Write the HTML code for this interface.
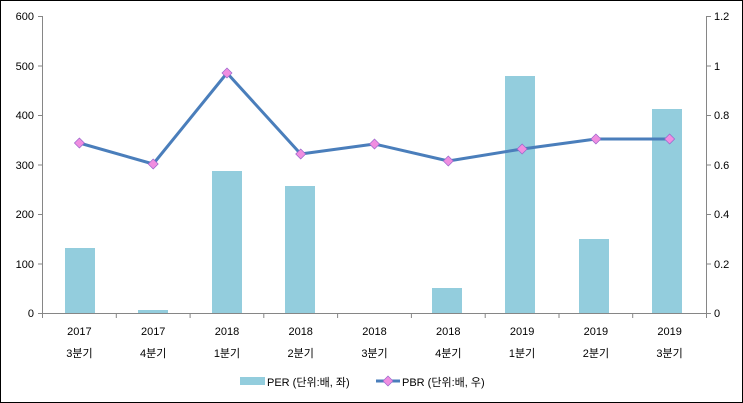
<!DOCTYPE html>
<html><head><meta charset="utf-8"><style>
html,body{margin:0;padding:0;background:#fff}
svg{display:block}
text{font-family:"Liberation Sans","Noto Sans CJK KR",sans-serif;font-size:11px;fill:#000}
</style></head><body>
<svg width="743" height="403" xmlns="http://www.w3.org/2000/svg">
<rect x="0.5" y="0.5" width="742" height="402" fill="#fff" stroke="#000" stroke-width="1"/>
<g stroke="#868686" stroke-width="1" fill="none">
<line x1="42.5" y1="16" x2="42.5" y2="313"/>
<line x1="706.5" y1="16" x2="706.5" y2="313"/>
<line x1="42" y1="313.5" x2="707" y2="313.5"/>
<line x1="38" y1="16.5" x2="42" y2="16.5"/><line x1="38" y1="66" x2="42" y2="66"/><line x1="38" y1="115.5" x2="42" y2="115.5"/><line x1="38" y1="165" x2="42" y2="165"/><line x1="38" y1="214.5" x2="42" y2="214.5"/><line x1="38" y1="264" x2="42" y2="264"/><line x1="38" y1="313.5" x2="42" y2="313.5"/>
<line x1="707" y1="16.5" x2="711" y2="16.5"/><line x1="707" y1="66" x2="711" y2="66"/><line x1="707" y1="115.5" x2="711" y2="115.5"/><line x1="707" y1="165" x2="711" y2="165"/><line x1="707" y1="214.5" x2="711" y2="214.5"/><line x1="707" y1="264" x2="711" y2="264"/><line x1="707" y1="313.5" x2="711" y2="313.5"/>
<line x1="42.5" y1="313" x2="42.5" y2="318"/><line x1="116.3" y1="313" x2="116.3" y2="318"/><line x1="190.1" y1="313" x2="190.1" y2="318"/><line x1="263.8" y1="313" x2="263.8" y2="318"/><line x1="337.6" y1="313" x2="337.6" y2="318"/><line x1="411.4" y1="313" x2="411.4" y2="318"/><line x1="485.2" y1="313" x2="485.2" y2="318"/><line x1="559" y1="313" x2="559" y2="318"/><line x1="632.7" y1="313" x2="632.7" y2="318"/><line x1="706.5" y1="313" x2="706.5" y2="318"/>
</g>
<g text-anchor="end">
<text x="34" y="20">600</text><text x="34" y="70">500</text><text x="34" y="119">400</text><text x="34" y="169">300</text><text x="34" y="218">200</text><text x="34" y="268">100</text><text x="34" y="317">0</text>
</g>
<g>
<text x="714" y="20">1.2</text><text x="714" y="70">1</text><text x="714" y="119">0.8</text><text x="714" y="169">0.6</text><text x="714" y="218">0.4</text><text x="714" y="268">0.2</text><text x="714" y="317">0</text>
</g>
<g fill="#93CDDD">
<rect x="65" y="248" width="30" height="65"/>
<rect x="138" y="310" width="30" height="3"/>
<rect x="212" y="171" width="30" height="142"/>
<rect x="285" y="186" width="30" height="127"/>
<rect x="432" y="288" width="30" height="25"/>
<rect x="505" y="76" width="30" height="237"/>
<rect x="579" y="239" width="30" height="74"/>
<rect x="652" y="109" width="30" height="204"/>
</g>
<polyline points="79.4,143 153.2,164 227,73 300.7,154 374.5,144 448.3,161 522.1,149 595.9,139 669.6,139" fill="none" stroke="#4A7EBB" stroke-width="3" stroke-linejoin="round"/>
<g fill="#F08EE0" stroke="#9966CC" stroke-width="0.7">
<path d="M79.4,138 l5,5 l-5,5 l-5,-5z"/>
<path d="M153.2,159 l5,5 l-5,5 l-5,-5z"/>
<path d="M227,68 l5,5 l-5,5 l-5,-5z"/>
<path d="M300.7,149 l5,5 l-5,5 l-5,-5z"/>
<path d="M374.5,139 l5,5 l-5,5 l-5,-5z"/>
<path d="M448.3,156 l5,5 l-5,5 l-5,-5z"/>
<path d="M522.1,144 l5,5 l-5,5 l-5,-5z"/>
<path d="M595.9,134 l5,5 l-5,5 l-5,-5z"/>
<path d="M669.6,134 l5,5 l-5,5 l-5,-5z"/>
</g>
<g text-anchor="middle">
<text x="79.4" y="335">2017</text><text x="79.4" y="357">3분기</text>
<text x="153.2" y="335">2017</text><text x="153.2" y="357">4분기</text>
<text x="227" y="335">2018</text><text x="227" y="357">1분기</text>
<text x="300.7" y="335">2018</text><text x="300.7" y="357">2분기</text>
<text x="374.5" y="335">2018</text><text x="374.5" y="357">3분기</text>
<text x="448.3" y="335">2018</text><text x="448.3" y="357">4분기</text>
<text x="522.1" y="335">2019</text><text x="522.1" y="357">1분기</text>
<text x="595.9" y="335">2019</text><text x="595.9" y="357">2분기</text>
<text x="669.6" y="335">2019</text><text x="669.6" y="357">3분기</text>
</g>
<rect x="240" y="377" width="25" height="8" fill="#93CDDD"/>
<text x="267" y="386">PER (단위:배, 좌)</text>
<line x1="376" y1="381" x2="400" y2="381" stroke="#4A7EBB" stroke-width="3"/>
<path d="M388,376 l5,5 l-5,5 l-5,-5z" fill="#F08EE0" stroke="#9966CC" stroke-width="0.7"/>
<text x="402" y="386">PBR (단위:배, 우)</text>
</svg>
</body></html>
